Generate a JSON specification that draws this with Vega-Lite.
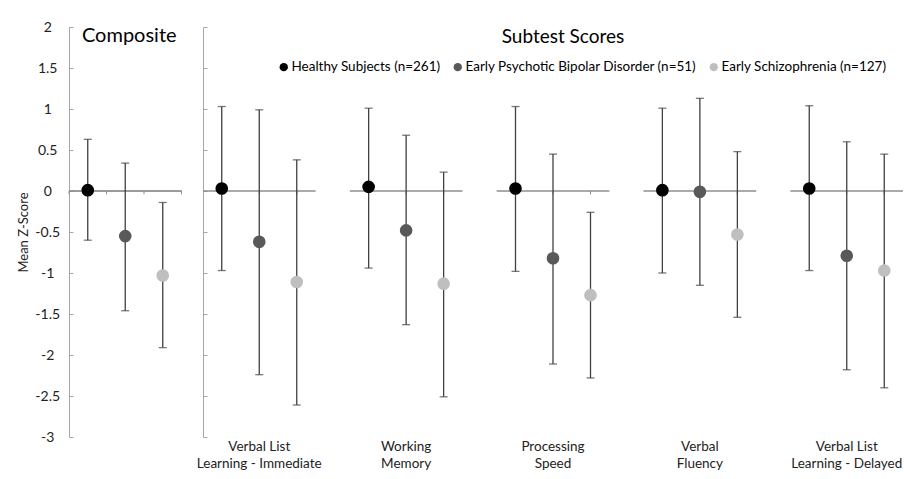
{
  "$schema": "https://vega.github.io/schema/vega-lite/v6.json",
  "padding": {"left": 17, "top": 20, "right": 0, "bottom": 0},
  "background": "white",
  "config": {
    "font": "Lato",
    "view": {"stroke": null},
    "axis": {"grid": false, "labelColor": "#222222", "titleColor": "#222222"}
  },
  "datasets": {
    "composite": [
      {"Group": "Healthy Subjects (n=261)", "Mean": 0.01, "Lower": -0.60, "Upper": 0.63},
      {"Group": "Early Psychotic Bipolar Disorder (n=51)", "Mean": -0.55, "Lower": -1.46, "Upper": 0.34},
      {"Group": "Early Schizophrenia (n=127)", "Mean": -1.03, "Lower": -1.91, "Upper": -0.14}
    ],
    "subtests": [
      {"Subtest": "Verbal List Learning - Immediate", "Group": "Healthy Subjects (n=261)", "Mean": 0.03, "Lower": -0.97, "Upper": 1.03},
      {"Subtest": "Verbal List Learning - Immediate", "Group": "Early Psychotic Bipolar Disorder (n=51)", "Mean": -0.62, "Lower": -2.24, "Upper": 0.99},
      {"Subtest": "Verbal List Learning - Immediate", "Group": "Early Schizophrenia (n=127)", "Mean": -1.11, "Lower": -2.61, "Upper": 0.38},
      {"Subtest": "Working Memory", "Group": "Healthy Subjects (n=261)", "Mean": 0.05, "Lower": -0.94, "Upper": 1.01},
      {"Subtest": "Working Memory", "Group": "Early Psychotic Bipolar Disorder (n=51)", "Mean": -0.48, "Lower": -1.63, "Upper": 0.68},
      {"Subtest": "Working Memory", "Group": "Early Schizophrenia (n=127)", "Mean": -1.13, "Lower": -2.51, "Upper": 0.23},
      {"Subtest": "Processing Speed", "Group": "Healthy Subjects (n=261)", "Mean": 0.03, "Lower": -0.98, "Upper": 1.03},
      {"Subtest": "Processing Speed", "Group": "Early Psychotic Bipolar Disorder (n=51)", "Mean": -0.82, "Lower": -2.11, "Upper": 0.45},
      {"Subtest": "Processing Speed", "Group": "Early Schizophrenia (n=127)", "Mean": -1.27, "Lower": -2.28, "Upper": -0.26},
      {"Subtest": "Verbal Fluency", "Group": "Healthy Subjects (n=261)", "Mean": 0.01, "Lower": -1.00, "Upper": 1.01},
      {"Subtest": "Verbal Fluency", "Group": "Early Psychotic Bipolar Disorder (n=51)", "Mean": -0.01, "Lower": -1.15, "Upper": 1.13},
      {"Subtest": "Verbal Fluency", "Group": "Early Schizophrenia (n=127)", "Mean": -0.53, "Lower": -1.54, "Upper": 0.48},
      {"Subtest": "Verbal List Learning - Delayed", "Group": "Healthy Subjects (n=261)", "Mean": 0.03, "Lower": -0.97, "Upper": 1.04},
      {"Subtest": "Verbal List Learning - Delayed", "Group": "Early Psychotic Bipolar Disorder (n=51)", "Mean": -0.79, "Lower": -2.18, "Upper": 0.60},
      {"Subtest": "Verbal List Learning - Delayed", "Group": "Early Schizophrenia (n=127)", "Mean": -0.97, "Lower": -2.40, "Upper": 0.45}
    ]
  },
  "spacing": 14,
  "resolve": {"scale": {"color": "independent"}, "legend": {"color": "independent"}},
  "hconcat": [
    {
      "width": 112.5,
      "height": 410,
      "title": {"text": "Composite", "fontSize": 20, "fontWeight": "normal", "color": "#000000", "frame": "group", "anchor": "middle", "offset": -42, "baseline": "alphabetic", "dx": 4},
      "data": {"name": "composite"},
      "layer": [
        {
          "mark": {"type": "rule", "color": "#8c8c8c", "strokeWidth": 1},
          "encoding": {
            "y": {"datum": 0, "type": "quantitative", "scale": {"domain": [-3, 2], "nice": false, "zero": false},
              "axis": {"title": "Mean Z-Score", "titleFontSize": 13, "titleFontWeight": "normal", "titlePadding": 4,
                "values": [-3, -2.5, -2, -1.5, -1, -0.5, 0, 0.5, 1, 1.5, 2], "labelExpr": "toString(datum.value)",
                "labelAlign": "center", "labelPadding": 25.8, "labelFontSize": 14, "tickSize": -4,
                "tickColor": "#a6a6a6", "domainColor": "#a6a6a6", "labelOverlap": false, "labelFlush": false}}
          }
        },
        {
          "mark": {"type": "rule", "color": "#8c8c8c", "strokeWidth": 1},
          "encoding": {
            "x": {"field": "Group", "type": "nominal", "bandPosition": 0,
              "sort": ["Healthy Subjects (n=261)", "Early Psychotic Bipolar Disorder (n=51)", "Early Schizophrenia (n=127)"],
              "scale": {"paddingInner": 0, "paddingOuter": 0}, "axis": null},
            "y": {"datum": 0, "type": "quantitative"},
            "y2": {"datum": -0.04}
          }
        },
        {
          "transform": [{"filter": "datum.Group == 'Early Schizophrenia (n=127)'"}],
          "mark": {"type": "rule", "color": "#8c8c8c", "strokeWidth": 1},
          "encoding": {
            "x": {"field": "Group", "type": "nominal", "bandPosition": 1,
              "sort": ["Healthy Subjects (n=261)", "Early Psychotic Bipolar Disorder (n=51)", "Early Schizophrenia (n=127)"], "axis": null},
            "y": {"datum": 0, "type": "quantitative"},
            "y2": {"datum": -0.04}
          }
        },
        {
          "mark": {"type": "rule", "color": "#404040", "strokeWidth": 1.3},
          "encoding": {
            "x": {"field": "Group", "type": "nominal",
              "sort": ["Healthy Subjects (n=261)", "Early Psychotic Bipolar Disorder (n=51)", "Early Schizophrenia (n=127)"], "axis": null},
            "y": {"field": "Lower", "type": "quantitative"},
            "y2": {"field": "Upper"}
          }
        },
        {
          "mark": {"type": "tick", "orient": "horizontal", "color": "#404040", "size": 8, "thickness": 1.3},
          "encoding": {
            "x": {"field": "Group", "type": "nominal",
              "sort": ["Healthy Subjects (n=261)", "Early Psychotic Bipolar Disorder (n=51)", "Early Schizophrenia (n=127)"], "axis": null},
            "y": {"field": "Lower", "type": "quantitative"}
          }
        },
        {
          "mark": {"type": "tick", "orient": "horizontal", "color": "#404040", "size": 8, "thickness": 1.3},
          "encoding": {
            "x": {"field": "Group", "type": "nominal",
              "sort": ["Healthy Subjects (n=261)", "Early Psychotic Bipolar Disorder (n=51)", "Early Schizophrenia (n=127)"], "axis": null},
            "y": {"field": "Upper", "type": "quantitative"}
          }
        },
        {
          "mark": {"type": "point", "filled": true, "size": 160, "opacity": 1},
          "encoding": {
            "x": {"field": "Group", "type": "nominal",
              "sort": ["Healthy Subjects (n=261)", "Early Psychotic Bipolar Disorder (n=51)", "Early Schizophrenia (n=127)"], "axis": null},
            "y": {"field": "Mean", "type": "quantitative"},
            "color": {"field": "Group", "type": "nominal", "legend": null,
              "scale": {"domain": ["Healthy Subjects (n=261)", "Early Psychotic Bipolar Disorder (n=51)", "Early Schizophrenia (n=127)"],
                "range": ["#000000", "#595959", "#bfbfbf"]}}
          }
        }
      ]
    },
    {
      "width": 700,
      "height": 410,
      "title": {"text": "Subtest Scores", "fontSize": 19, "fontWeight": "normal", "color": "#000000", "frame": "group", "anchor": "middle", "offset": -35, "baseline": "alphabetic", "dx": 10},
      "data": {"name": "subtests"},
      "layer": [
        {
          "mark": {"type": "tick", "orient": "horizontal", "color": "#8c8c8c", "size": 112.5, "thickness": 1},
          "encoding": {
            "x": {"field": "Subtest", "type": "nominal",
              "sort": ["Verbal List Learning - Immediate", "Working Memory", "Processing Speed", "Verbal Fluency", "Verbal List Learning - Delayed"],
              "scale": {"paddingInner": 0.234, "paddingOuter": 0},
              "axis": {"title": null, "domain": false, "ticks": false, "labelAngle": 0, "labelFontSize": 13.5,
                "labelLineHeight": 17, "labelPadding": 2, "labelBaseline": "top", "labelLimit": 0, "labelOverlap": false,
                "labelExpr": "indexof(datum.label, 'Verbal List ') == 0 ? ['Verbal List', substring(datum.label, 12)] : split(datum.label, ' ')"}},
            "y": {"datum": 0, "type": "quantitative", "scale": {"domain": [-3, 2], "nice": false, "zero": false},
              "axis": {"title": null, "labels": false, "values": [-3, -2.5, -2, -1.5, -1, -0.5, 0, 0.5, 1, 1.5, 2],
                "tickSize": -4, "tickColor": "#a6a6a6", "domainColor": "#a6a6a6"}}
          }
        },
        {
          "mark": {"type": "rule", "color": "#8c8c8c", "strokeWidth": 1, "xOffset": -18.75},
          "encoding": {
            "x": {"field": "Subtest", "type": "nominal",
              "sort": ["Verbal List Learning - Immediate", "Working Memory", "Processing Speed", "Verbal Fluency", "Verbal List Learning - Delayed"]},
            "xOffset": {"field": "Group", "type": "nominal",
              "sort": ["Healthy Subjects (n=261)", "Early Psychotic Bipolar Disorder (n=51)", "Early Schizophrenia (n=127)"],
              "scale": {"paddingInner": 0, "paddingOuter": 0}},
            "y": {"datum": 0, "type": "quantitative"},
            "y2": {"datum": -0.04}
          }
        },
        {
          "transform": [{"filter": "datum.Group == 'Early Schizophrenia (n=127)'"}],
          "mark": {"type": "rule", "color": "#8c8c8c", "strokeWidth": 1, "xOffset": 18.75},
          "encoding": {
            "x": {"field": "Subtest", "type": "nominal",
              "sort": ["Verbal List Learning - Immediate", "Working Memory", "Processing Speed", "Verbal Fluency", "Verbal List Learning - Delayed"]},
            "xOffset": {"field": "Group", "type": "nominal",
              "sort": ["Healthy Subjects (n=261)", "Early Psychotic Bipolar Disorder (n=51)", "Early Schizophrenia (n=127)"]},
            "y": {"datum": 0, "type": "quantitative"},
            "y2": {"datum": -0.04}
          }
        },
        {
          "mark": {"type": "rule", "color": "#404040", "strokeWidth": 1.3},
          "encoding": {
            "x": {"field": "Subtest", "type": "nominal",
              "sort": ["Verbal List Learning - Immediate", "Working Memory", "Processing Speed", "Verbal Fluency", "Verbal List Learning - Delayed"]},
            "xOffset": {"field": "Group", "type": "nominal",
              "sort": ["Healthy Subjects (n=261)", "Early Psychotic Bipolar Disorder (n=51)", "Early Schizophrenia (n=127)"]},
            "y": {"field": "Lower", "type": "quantitative"},
            "y2": {"field": "Upper"}
          }
        },
        {
          "mark": {"type": "tick", "orient": "horizontal", "color": "#404040", "size": 8, "thickness": 1.3},
          "encoding": {
            "x": {"field": "Subtest", "type": "nominal",
              "sort": ["Verbal List Learning - Immediate", "Working Memory", "Processing Speed", "Verbal Fluency", "Verbal List Learning - Delayed"]},
            "xOffset": {"field": "Group", "type": "nominal",
              "sort": ["Healthy Subjects (n=261)", "Early Psychotic Bipolar Disorder (n=51)", "Early Schizophrenia (n=127)"]},
            "y": {"field": "Lower", "type": "quantitative"}
          }
        },
        {
          "mark": {"type": "tick", "orient": "horizontal", "color": "#404040", "size": 8, "thickness": 1.3},
          "encoding": {
            "x": {"field": "Subtest", "type": "nominal",
              "sort": ["Verbal List Learning - Immediate", "Working Memory", "Processing Speed", "Verbal Fluency", "Verbal List Learning - Delayed"]},
            "xOffset": {"field": "Group", "type": "nominal",
              "sort": ["Healthy Subjects (n=261)", "Early Psychotic Bipolar Disorder (n=51)", "Early Schizophrenia (n=127)"]},
            "y": {"field": "Upper", "type": "quantitative"}
          }
        },
        {
          "mark": {"type": "point", "filled": true, "size": 160, "opacity": 1},
          "encoding": {
            "x": {"field": "Subtest", "type": "nominal",
              "sort": ["Verbal List Learning - Immediate", "Working Memory", "Processing Speed", "Verbal Fluency", "Verbal List Learning - Delayed"]},
            "xOffset": {"field": "Group", "type": "nominal",
              "sort": ["Healthy Subjects (n=261)", "Early Psychotic Bipolar Disorder (n=51)", "Early Schizophrenia (n=127)"]},
            "y": {"field": "Mean", "type": "quantitative"},
            "color": {"field": "Group", "type": "nominal",
              "scale": {"domain": ["Healthy Subjects (n=261)", "Early Psychotic Bipolar Disorder (n=51)", "Early Schizophrenia (n=127)"],
                "range": ["#000000", "#595959", "#bfbfbf"]},
              "legend": {"title": null, "orient": "none", "direction": "horizontal", "legendX": 74, "legendY": 33,
                "symbolType": "circle", "symbolSize": 70, "symbolStrokeWidth": 0, "labelFontSize": 13.5, "labelColor": "#000000",
                "labelOffset": 1, "columnPadding": 10, "labelLimit": 0}}
          }
        }
      ]
    }
  ]
}
